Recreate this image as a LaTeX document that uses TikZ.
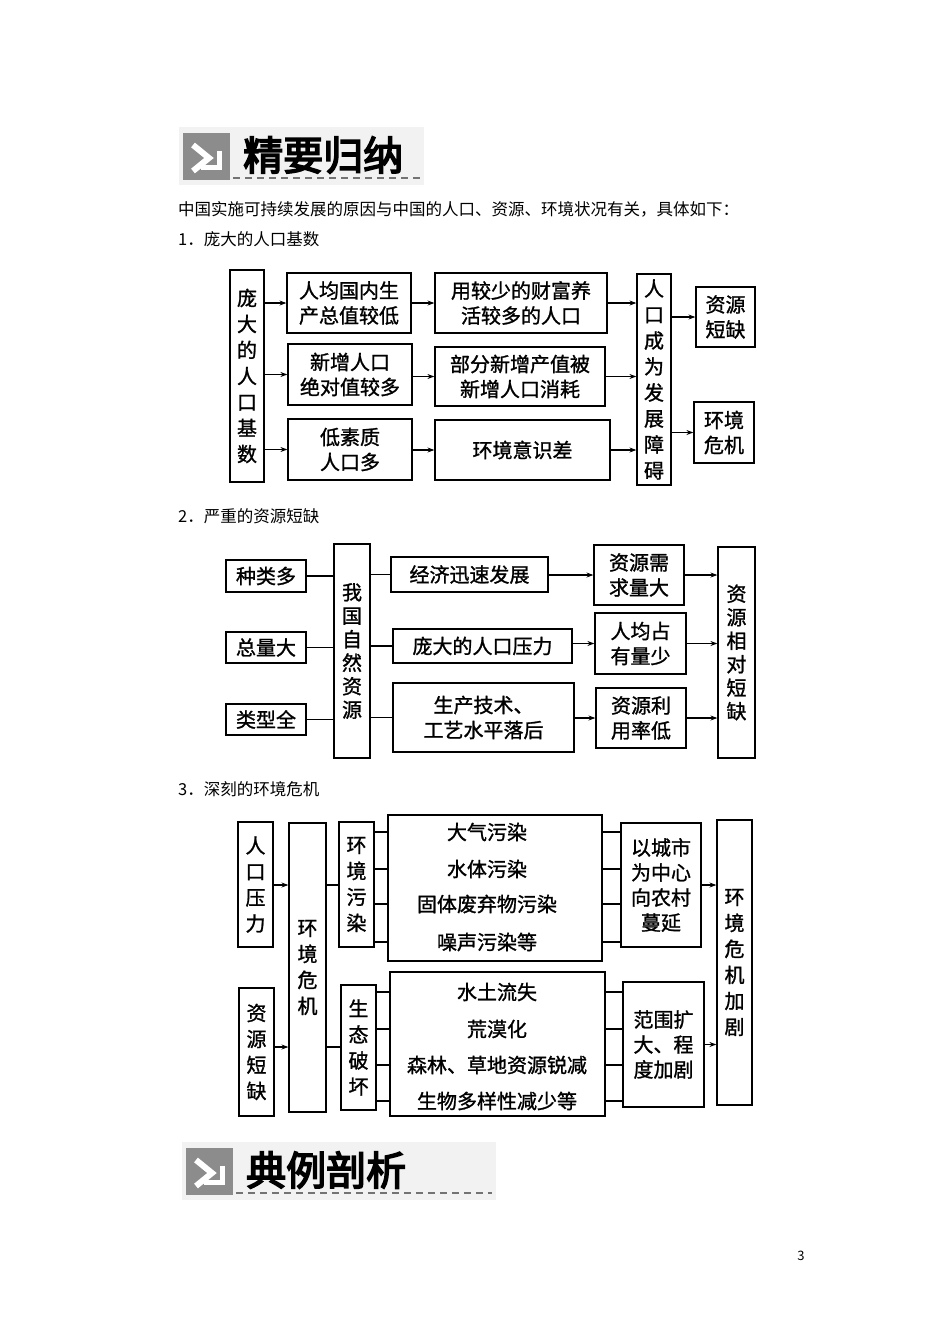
\documentclass[tikz,border=0pt]{standalone}
\usepackage{fontspec}
\setmainfont{Noto Sans CJK SC}
\newfontfamily\hfont[FakeBold=4]{Noto Sans CJK SC}
\newfontfamily\dfont[FakeBold=1.2]{Noto Sans CJK SC}
\usetikzlibrary{arrows.meta}
\tikzset{
  bx/.style={draw,line width=1.2pt,inner sep=0pt,align=center,font=\dfont\fontsize{20}{25}\selectfont},
  vt/.style={bx,font=\dfont\fontsize{20}{26}\selectfont},
  vs/.style={bx,font=\dfont\fontsize{20}{23.5}\selectfont},
  ln/.style={line width=1.1pt},
  ar/.style={line width=1.1pt,-{Stealth[length=7pt,width=5pt]}},
  it/.style={font=\dfont\fontsize{20}{25}\selectfont,inner sep=0pt},
  body/.style={font=\fontsize{16.5}{18}\selectfont,anchor=west,inner sep=0pt}
}
\newcommand\bx[7][bx]{\node[#1,minimum width={(#5-#3)*1pt},minimum height={(#6-#4)*1pt}] (#2) at ({(#3+#5)/2},{(#4+#6)/2}) {#7};}
\newcommand\header[5]{%
  \fill[black!5] (#2-4,#3-6) rectangle (#4+4,#3+52);
  \fill[black!45] (#2,#3) rectangle (#2+47,#3+47);
  \draw[white,line width=6pt] (#2+10,#3+12) -- (#2+26,#3+25) -- (#2+10,#3+38);
  \draw[white,line width=5pt] (#2+18,#3+34) -- (#2+36,#3+34) -- (#2+36,#3+18);
  \draw[black!55,dashed,line width=1.3pt,dash pattern=on 7pt off 5pt] (#2+50,#3+45) -- (#4,#3+45);
  \node[anchor=west,inner sep=0pt,font=\hfont\fontsize{40}{44}\selectfont] (#1) at (#2+60,#3+22) {#5};}
\begin{document}
\begin{tikzpicture}[x=1pt,y=-1pt]
\useasboundingbox[fill=white] (0,0) rectangle (950,1344);
\header{h1}{183}{133}{420}{精要归纳}
\header{h2}{186}{1148}{492}{典例剖析}
\node[body] (t0) at (178,209) {中国实施可持续发展的原因与中国的人口、资源、环境状况有关，具体如下：};
\node[body] (t1) at (178,239) {1．庞大的人口基数};
\node[body] (t2) at (178,516) {2．严重的资源短缺};
\node[body] (t3) at (178,789) {3．深刻的环境危机};
\node[font=\fontsize{13}{15}\selectfont] (pg) at (801,1256) {3};
% section 1
\bx[vt]{A}{230}{270}{264}{482}{庞\\大\\的\\人\\口\\基\\数}
\bx{B1}{287}{273}{411}{333}{人均国内生\\产总值较低}
\bx{B2}{288}{344}{412}{405}{新增人口\\绝对值较多}
\bx{B3}{288}{419}{412}{480}{低素质\\人口多}
\bx{C1}{435}{273}{607}{333}{用较少的财富养\\活较多的人口}
\bx{C2}{435}{347}{605}{406}{部分新增产值被\\新增人口消耗}
\bx{C3}{435}{420}{610}{480}{环境意识差}
\bx[vt]{D}{637}{274}{671}{485}{人\\口\\成\\为\\发\\展\\障\\碍}
\bx{E1}{696}{287}{755}{347}{资源\\短缺}
\bx{E2}{694}{402}{754}{463}{环境\\危机}
\foreach \i in {1,2,3}{
  \draw[ar] (A.east |- B\i) -- (B\i.west);
  \draw[ar] (B\i.east |- C\i) -- (C\i.west);
  \draw[ar] (C\i.east) -- (D.west |- C\i);
}
\draw[ar] (D.east |- E1) -- (E1.west);
\draw[ar] (D.east |- E2) -- (E2.west);
% section 2
\bx{S1}{226}{560}{306}{592}{种类多}
\bx{S2}{226}{632}{306}{663}{总量大}
\bx{S3}{226}{704}{306}{735}{类型全}
\bx[vs]{M}{334}{544}{370}{758}{我\\国\\自\\然\\资\\源}
\bx{T1}{391}{557}{548}{592}{经济迅速发展}
\bx{T2}{393}{629}{572}{663}{庞大的人口压力}
\bx{T3}{393}{683}{574}{752}{生产技术、\\工艺水平落后}
\bx{U1}{594}{545}{684}{605}{资源需\\求量大}
\bx{U2}{595}{613}{686}{674}{人均占\\有量少}
\bx{U3}{596}{688}{686}{748}{资源利\\用率低}
\bx[vs]{V}{718}{547}{755}{758}{资\\源\\相\\对\\短\\缺}
\foreach \i in {1,2,3}{
  \draw[ln] (S\i.east) -- (M.west |- S\i);
  \draw[ln] (M.east |- T\i) -- (T\i.west);
  \draw[ar] (T\i.east |- U\i) -- (U\i.west);
  \draw[ar] (U\i.east) -- (V.west |- U\i);
}
% section 3
\bx[vt]{P1}{238}{822}{273}{947}{人\\口\\压\\力}
\bx[vt]{P2}{239}{988}{274}{1116}{资\\源\\短\\缺}
\bx[vt]{Q}{289}{823}{326}{1112}{环\\境\\危\\机}
\bx[vt]{R1}{339}{822}{374}{947}{环\\境\\污\\染}
\bx[vt]{R2}{341}{985}{376}{1110}{生\\态\\破\\坏}
\bx{L1}{388}{815}{602}{961}{}
\bx{L2}{390}{972}{605}{1116}{}
\node[it] (a1) at (487,832) {大气污染};
\node[it] (a2) at (487,869) {水体污染};
\node[it] (a3) at (487,904) {固体废弃物污染};
\node[it] (a4) at (487,942) {噪声污染等};
\node[it] (b1) at (497,992) {水土流失};
\node[it] (b2) at (497,1029) {荒漠化};
\node[it] (b3) at (497,1065) {森林、草地资源锐减};
\node[it] (b4) at (497,1101) {生物多样性减少等};
\bx{W1}{621}{823}{701}{947}{以城市\\为中心\\向农村\\蔓延}
\bx{W2}{623}{982}{704}{1107}{范围扩\\大、程\\度加剧}
\bx[vt]{X}{717}{820}{752}{1105}{环\\境\\危\\机\\加\\剧}
\draw[ar] (P1.east |- 0,885) coordinate (p1a) -- (Q.west |- p1a);
\draw[ar] (P2.east |- 0,1047) coordinate (p2a) -- (Q.west |- p2a);
\draw[ln] (Q.east |- p1a) -- (R1.west |- p1a);
\draw[ln] (Q.east |- p2a) -- (R2.west |- p2a);
\foreach \i in {1,2,3,4}{
  \draw[ln] (R1.east |- a\i) -- (L1.west |- a\i);
  \draw[ln] (L1.east |- a\i) -- (W1.west |- a\i);
  \draw[ln] (R2.east |- b\i) -- (L2.west |- b\i);
  \draw[ln] (L2.east |- b\i) -- (W2.west |- b\i);
}
\draw[ar] (W1.east) -- (X.west |- W1);
\draw[ar] (W2.east) -- (X.west |- W2);
\end{tikzpicture}
\end{document}
